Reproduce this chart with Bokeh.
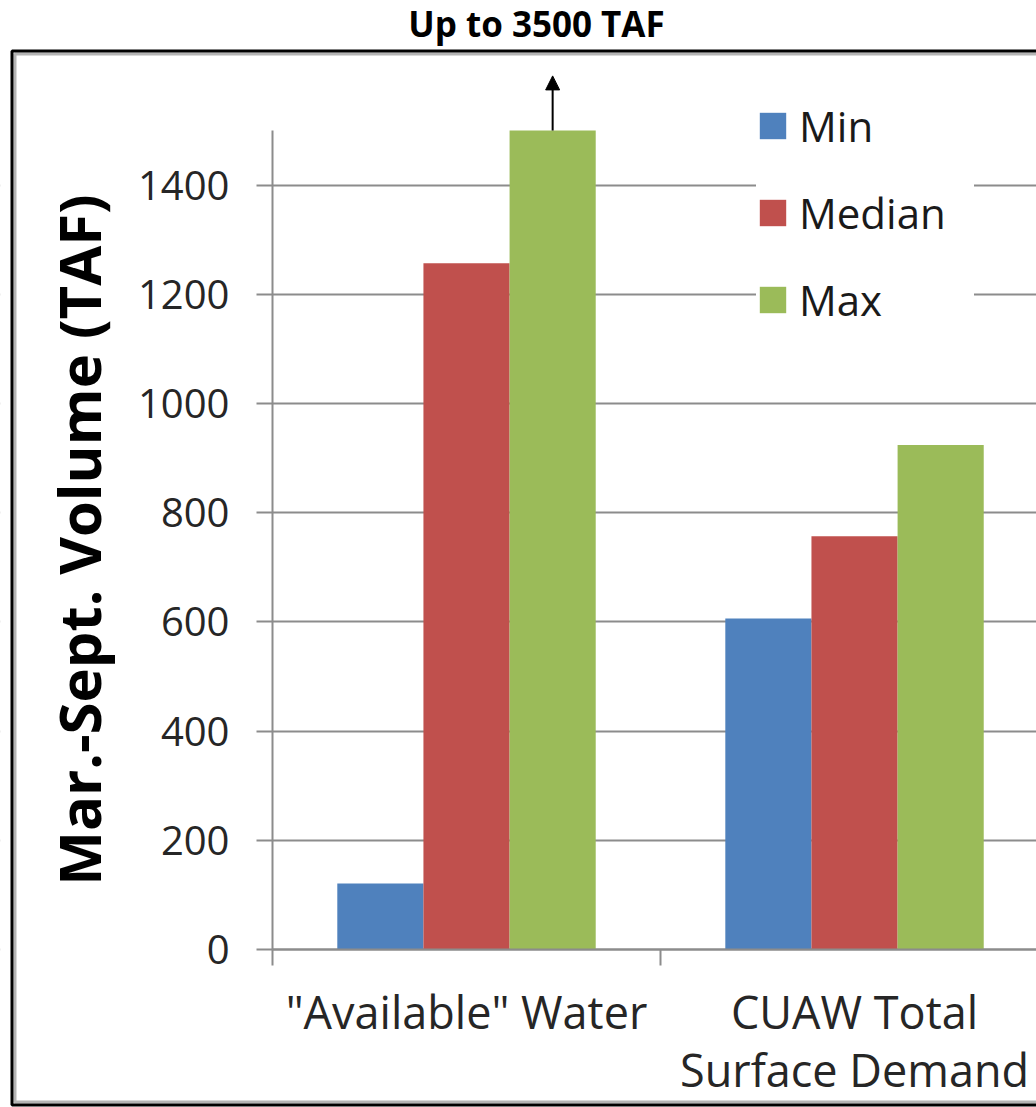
from bokeh.plotting import figure
from bokeh.models import (ColumnDataSource, Range1d, FixedTicker, Legend, LegendItem,
                          Label, BoxAnnotation, Arrow, NormalHead)
from bokeh.transform import dodge
from bokeh.embed import file_html
from bokeh.resources import INLINE

# Mar.-Sept. volumes (TAF)
categories = ['"Available" Water', 'CUAW Total\nSurface Demand']
series = ["Min", "Median", "Max"]
min_vals = [121, 606]
median_vals = [1257, 757]
max_vals = [1500, 924]
y_ticks = [0, 200, 400, 600, 800, 1000, 1200, 1400]
y_max = 1500
colors = ["#4F81BD", "#C0504D", "#9BBB59"]

FONT = "Open Sans"
GRID = "#8c8c8c"
BAR_W = 0.222
offsets = [-BAR_W, 0.0, BAR_W]

W, H = 1036, 1107
centers = [i + 0.5 for i in range(len(categories))]
source = ColumnDataSource(dict(x=centers, Min=min_vals, Median=median_vals, Max=max_vals))

# the frame fills the whole canvas; axes are pinned at x=0 / y=0 inside it
x_end = 1.969
p = figure(width=W, height=H, output_backend="svg", toolbar_location=None,
           x_range=Range1d(-0.701, x_end), y_range=Range1d(-289.4, 1738.1),
           min_border=0, outline_line_color=None)
p.background_fill_color = "white"
p.border_fill_color = "white"

# keep the horizontal grid out of the label area left of the value axis
p.add_layout(BoxAnnotation(left=-20, left_units="screen", right=0,
                           top=H + 20, top_units="screen", bottom=-20, bottom_units="screen",
                           fill_color="white", fill_alpha=1.0,
                           line_color=None, line_alpha=0, level="underlay"))

renderers = []
for name, off, col in zip(series, offsets, colors):
    r = p.vbar(x=dodge("x", off), top=name, width=BAR_W, bottom=0, source=source,
               fill_color=col, line_color=None)
    renderers.append(r)

# y axis
ya = p.yaxis[0]
ya.fixed_location = 0
ya.bounds = (0, y_max)
ya.ticker = FixedTicker(ticks=y_ticks)
ya.axis_label = "Mar.-Sept. Volume (TAF)"
ya.axis_label_text_font = FONT
ya.axis_label_text_font_style = "bold"
ya.axis_label_text_font_size = "58px"
ya.axis_label_text_color = "black"
ya.axis_label_standoff = 17
ya.major_label_text_font = FONT
ya.major_label_text_font_size = "40px"
ya.major_label_text_color = "#262626"
ya.major_label_standoff = 27
ya.major_tick_in = 0
ya.major_tick_out = 16
ya.major_tick_line_color = GRID
ya.major_tick_line_width = 2
ya.minor_tick_line_color = None
ya.axis_line_color = GRID
ya.axis_line_width = 2

# x axis: labels at category centres, ticks at category boundaries
xa = p.xaxis[0]
xa.fixed_location = 0
xa.bounds = (0, x_end)
xa.ticker = FixedTicker(ticks=centers, minor_ticks=[0, 1, 2])
xa.major_label_overrides = {c: lab for c, lab in zip(centers, categories)}
xa.major_label_text_font = FONT
xa.major_label_text_font_size = "45px"
xa.major_label_text_line_height = 0.95
xa.major_label_text_color = "#262626"
xa.major_label_standoff = 16
xa.major_tick_in = 0
xa.major_tick_out = 0
xa.minor_tick_in = 0
xa.minor_tick_out = 16
xa.minor_tick_line_color = GRID
xa.minor_tick_line_width = 2
xa.axis_line_color = GRID
xa.axis_line_width = 2

p.xgrid.grid_line_color = None
p.ygrid.ticker = FixedTicker(ticks=y_ticks)
p.ygrid.grid_line_color = GRID
p.ygrid.grid_line_width = 2

legend = Legend(items=[LegendItem(label=s, renderers=[r]) for s, r in zip(series, renderers)],
                location=(756, 779), glyph_width=33, glyph_height=33, label_standoff=10,
                label_width=175, spacing=30, padding=36, background_fill_color="white",
                background_fill_alpha=1.0, border_line_color=None,
                label_text_font=FONT, label_text_font_size="42px",
                label_text_color="#1a1a1a")
p.add_layout(legend, "center")

# arrow above the Max bar, whose full value runs off the scale
arrow_x = centers[0] + offsets[2]
p.add_layout(Arrow(x_start=arrow_x, y_start=max_vals[0], x_end=arrow_x, y_end=max_vals[0] + 100,
                   line_color="black", line_width=2,
                   end=NormalHead(size=14, fill_color="black", line_color="black")))

p.add_layout(Label(x=536, y=H - 23, x_units="screen", y_units="screen", text="Up to 3500 TAF",
                   text_font=FONT, text_font_style="bold", text_font_size="35px",
                   text_align="center", text_baseline="middle", text_color="black"))

# outer chart border (dark edge with a soft grey inner line)
p.add_layout(BoxAnnotation(left=14.5, right=W + 20, top=H - 53.5, bottom=5.5,
                           left_units="screen", right_units="screen",
                           top_units="screen", bottom_units="screen",
                           fill_alpha=0, line_color="#b4b4b4", line_alpha=1.0, line_width=3))
p.add_layout(BoxAnnotation(left=11.5, right=W + 20, top=H - 50.5, bottom=2.5,
                           left_units="screen", right_units="screen",
                           top_units="screen", bottom_units="screen",
                           fill_alpha=0, line_color="black", line_alpha=1.0, line_width=3))

open("out.html", "w").write(file_html(p, INLINE))
